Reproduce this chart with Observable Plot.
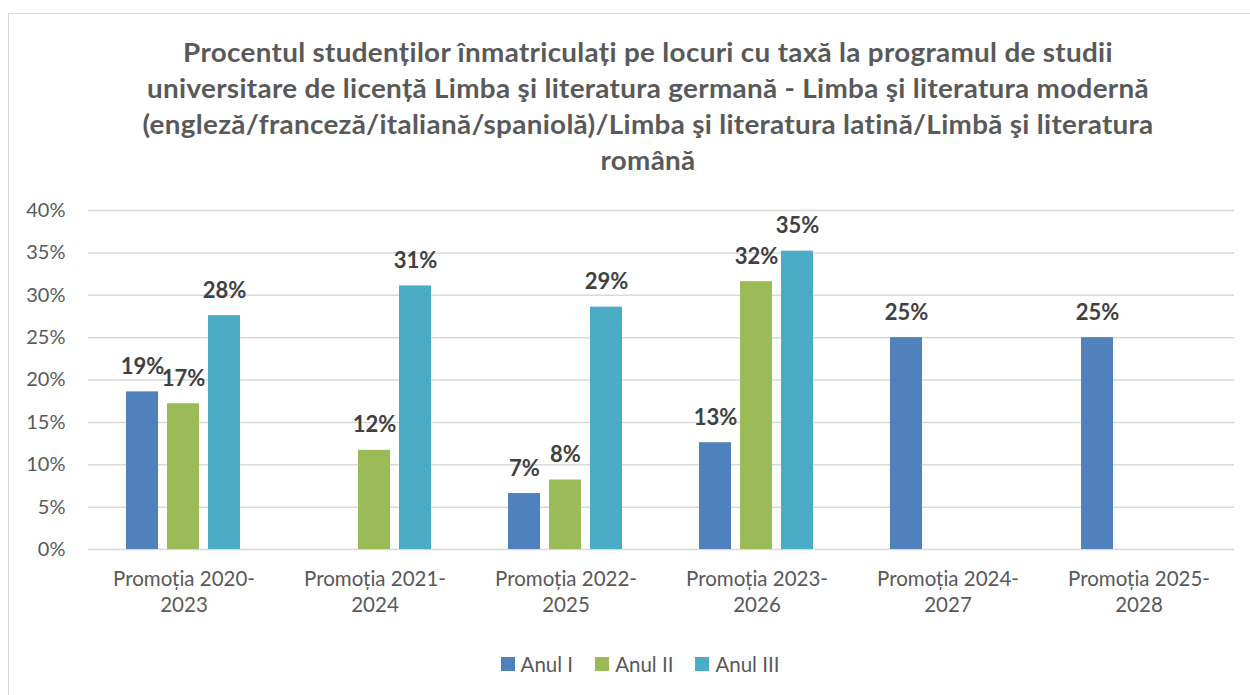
<!DOCTYPE html>
<html>
<head>
<meta charset="utf-8">
<script src="https://cdn.jsdelivr.net/npm/d3@7"></script>
<script src="https://cdn.jsdelivr.net/npm/@observablehq/plot@0.6"></script>
<style>
  html, body { margin: 0; padding: 0; background: #fff; overflow: hidden; }
  body { width: 1250px; height: 695px; position: relative; font-family: Lato, "Open Sans", sans-serif; }
  #frame { position: absolute; left: 8px; top: 13px; width: 1270px; height: 700px; border: 1.5px solid #d9d9d9; box-sizing: border-box; }
  #title { position: absolute; left: 98px; width: 1100px; top: 34px; text-align: center; color: #595959; font-weight: bold; font-size: 26px; line-height: 36px; letter-spacing: 0.3px; transform: scaleX(1.07); transform-origin: 550px 0; white-space: nowrap; }
  #chart { position: absolute; left: 0; top: 185px; }
  #legend { position: absolute; left: 0; width: 1280px; top: 652px; display: flex; justify-content: center; gap: 22px; color: #595959; font-size: 20.5px; }
  .item { display: flex; align-items: center; gap: 6px; }
  .sw { width: 14px; height: 14px; display: inline-block; }
</style>
</head>
<body>
<div id="frame"></div>
<div id="title">Procentul studenților înmatriculați pe locuri cu taxă la programul de studii<br>universitare de licență Limba şi literatura germană - Limba şi literatura modernă<br>(engleză/franceză/italiană/spaniolă)/Limba şi literatura latină/Limbă şi literatura<br>română</div>
<div id="chart"></div>
<div id="legend"></div>
<script>
const categories = ["Promoția 2020-2023", "Promoția 2021-2024", "Promoția 2022-2025", "Promoția 2023-2026", "Promoția 2024-2027", "Promoția 2025-2028"];
const seriesNames = ["Anul I", "Anul II", "Anul III"];
const seriesColors = ["#4f81bd", "#9bbb59", "#4bacc6"];
const anulI   = [0.186, null, 0.066, 0.126, 0.25, 0.25];
const anulII  = [0.172, 0.117, 0.082, 0.316, null, null];
const anulIII = [0.276, 0.311, 0.286, 0.352, null, null];
const yTicks = [0, 0.05, 0.10, 0.15, 0.20, 0.25, 0.30, 0.35, 0.40];

const seriesValues = [anulI, anulII, anulIII];
const data = [];
categories.forEach((c, i) => {
  seriesNames.forEach((s, j) => {
    const v = seriesValues[j][i];
    if (v != null) data.push({group: c, series: s, value: v});
  });
});
const pct = d3.format(".0%");

const chart = Plot.plot({
  width: 1250,
  height: 445,
  marginLeft: 88,
  marginRight: 16,
  marginTop: 25,
  marginBottom: 81,
  style: {fontFamily: "Lato, 'Open Sans', sans-serif", background: "transparent"},
  fx: {domain: categories, padding: 0, label: null, axis: null},
  x: {domain: seriesNames, paddingInner: 0.214, paddingOuter: 0.881, axis: null},
  y: {domain: [0, 0.4], label: null},
  color: {domain: seriesNames, range: seriesColors},
  marks: [
    Plot.gridY(yTicks, {stroke: "#d9d9d9", strokeOpacity: 1, strokeWidth: 1.5}),
    Plot.axisY(yTicks, {tickFormat: pct, tickSize: 0, tickPadding: 23, fontSize: 20, color: "#595959", label: null}),
    Plot.axisFx({anchor: "bottom", tickFormat: d => d.replace("-", "-\n"), tickSize: 0, tickPadding: 18, fontSize: 20.5, lineHeight: 1.27, color: "#595959", label: null}),
    Plot.barY(data, {fx: "group", x: "series", y: "value", fill: "series"}),
    Plot.text(data, {fx: "group", x: "series", y: "value", text: d => pct(d.value), lineAnchor: "bottom", dy: -18, fontWeight: "bold", fontSize: 22, fill: "#404040"})
  ]
});
document.getElementById("chart").appendChild(chart);

const legend = document.getElementById("legend");
seriesNames.forEach((s, j) => {
  const it = document.createElement("div");
  it.className = "item";
  const sw = document.createElement("span");
  sw.className = "sw";
  sw.style.background = seriesColors[j];
  const t = document.createElement("span");
  t.textContent = s;
  it.appendChild(sw);
  it.appendChild(t);
  legend.appendChild(it);
});
</script>
</body>
</html>
